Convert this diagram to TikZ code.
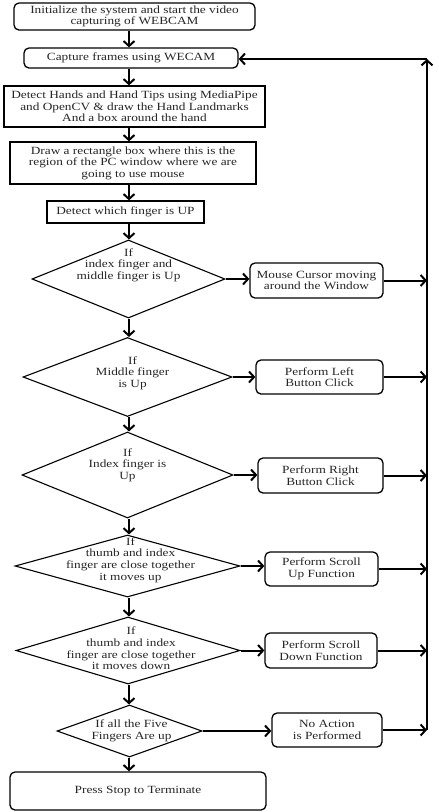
\documentclass[tikz,border=0pt]{standalone}
\usepackage{fontspec}
\setmainfont{Liberation Serif}[FakeStretch=1.21]
\usepackage{tikz}
\usetikzlibrary{shapes.geometric,arrows.meta}

\tikzset{
box/.style = {draw, line width = 1.3pt, inner sep = 0pt, align = center, text = black!85, font = \fontsize{11}{11.6}\selectfont},
rbox/.style = {box, rounded corners = 5pt},
cond/.style = {draw, diamond, line width = 1.1pt, inner sep = 0pt},
ctext/.style = {align = center, text = black!85, inner sep = 0pt, font = \fontsize{11}{11.6}\selectfont},
arr/.style = {line width = 2pt, -{Straight Barb[length = 5pt, width = 11pt]}}
}

\begin{document}
\begin{tikzpicture}[x = 1pt, y = -1pt]

\useasboundingbox (0,0) rectangle (439,812);
\coordinate (col) at (129,0);
\coordinate (back) at (427,59);

\node[rbox, minimum width = 241pt, minimum height = 27pt] (n1) at (134.5,16.5) {Initialize the system and start the video\\capturing of WEBCAM};
\node[rbox, minimum width = 214pt, minimum height = 20pt] (n2) at (131,58) {Capture frames using WECAM};
\node[box, minimum width = 261pt, minimum height = 41pt] (n3) at (134.5,106.5) {Detect Hands and Hand Tips using MediaPipe\\and OpenCV \& draw the Hand Landmarks\\And a box around the hand};
\node[box, minimum width = 246pt, minimum height = 42pt] (n4) at (133,163) {Draw a rectangle box where this is the\\region of the PC window where we are\\going to use mouse};
\node[box, minimum width = 157pt, minimum height = 22pt] (n5) at (125.5,212) {Detect which finger is UP};

\node[cond, minimum width = 193pt, minimum height = 78pt, label = {[ctext, yshift = 14pt]center:If\\index finger and\\middle finger is Up}] (c1) at (128.5,279) {};
\node[cond, minimum width = 209pt, minimum height = 79pt, label = {[ctext, xshift = 5pt, yshift = 4pt]center:If\\Middle finger\\is Up}] (c2) at (127.5,377) {};
\node[cond, minimum width = 211pt, minimum height = 86pt, label = {[ctext, yshift = 10pt]center:If\\Index finger is\\Up}] (c3) at (127.5,475) {};
\node[cond, minimum width = 225pt, minimum height = 62pt, label = {[ctext, xshift = 3pt, yshift = 6pt]center:If\\thumb and index\\finger are close together\\it moves up}] (c4) at (127.5,566) {};
\node[cond, minimum width = 224pt, minimum height = 67pt, label = {[ctext, xshift = 3pt, yshift = 2pt]center:If\\thumb and index\\finger are close together\\it moves down}] (c5) at (128,650.5) {};
\node[cond, minimum width = 145pt, minimum height = 52pt, label = {[ctext, xshift = 2pt]center:If all the Five\\Fingers Are up}] (c6) at (129.5,731) {};

\node[rbox, minimum width = 133pt, minimum height = 35pt] (c1y) at (316.5,280.5) {Mouse Cursor moving\\around the Window};
\node[rbox, minimum width = 127pt, minimum height = 34pt] (c2y) at (319.5,377) {Perform Left\\Button Click};
\node[rbox, minimum width = 125pt, minimum height = 35pt] (c3y) at (320.5,475.5) {Perform Right\\Button Click};
\node[rbox, minimum width = 113pt, minimum height = 34pt] (c4y) at (321.5,569) {Perform Scroll\\Up Function};
\node[rbox, minimum width = 112pt, minimum height = 35pt] (c5y) at (321,650.5) {Perform Scroll\\Down Function};
\node[rbox, minimum width = 110pt, minimum height = 34pt] (c6y) at (327,730) {No Action\\is Performed};

\node[rbox, minimum width = 256pt, minimum height = 38pt] (nend) at (138,791) {Press Stop to Terminate};

\draw[arr] (n1.south -| col) -- (n2.north -| col);
\draw[arr] (n2.south -| col) -- (n3.north -| col);
\draw[arr] (n3.south -| col) -- (n4.north -| col);
\draw[arr] (n4.south -| col) -- (n5.north -| col);
\draw[arr] (n5.south -| col) -- (c1.north -| col);
\draw[arr] (c1.south -| col) -- (c2.north -| col);
\draw[arr] (c2.south -| col) -- (c3.north -| col);
\draw[arr] (c3.south -| col) -- (c4.north -| col);
\draw[arr] (c4.south -| col) -- (c5.north -| col);
\draw[arr] (c5.south -| col) -- (c6.north -| col);
\draw[arr] (c6.south -| col) -- (nend.north -| col);

\draw[arr] (c1.east) -- (c1.east -| c1y.west);
\draw[arr] (c2.east) -- (c2.east -| c2y.west);
\draw[arr] (c3.east) -- (c3.east -| c3y.west);
\draw[arr] (c4.east) -- (c4.east -| c4y.west);
\draw[arr] (c5.east) -- (c5.east -| c5y.west);
\draw[arr] (c6.east) -- (c6.east -| c6y.west);

\draw[arr] (c1y.east) -- (c1y.east -| back);
\draw[arr] (c2y.east) -- (c2y.east -| back);
\draw[arr] (c3y.east) -- (c3y.east -| back);
\draw[arr] (c4y.east) -- (c4y.east -| back);
\draw[arr] (c5y.east) -- (c5y.east -| back);
\draw[arr] (c6y.east) -- (c6y.east -| back);

\draw[arr] (c6y.east -| back) -- (back);
\draw[arr] (back) -- (back -| n2.east);

\end{tikzpicture}
\end{document}
